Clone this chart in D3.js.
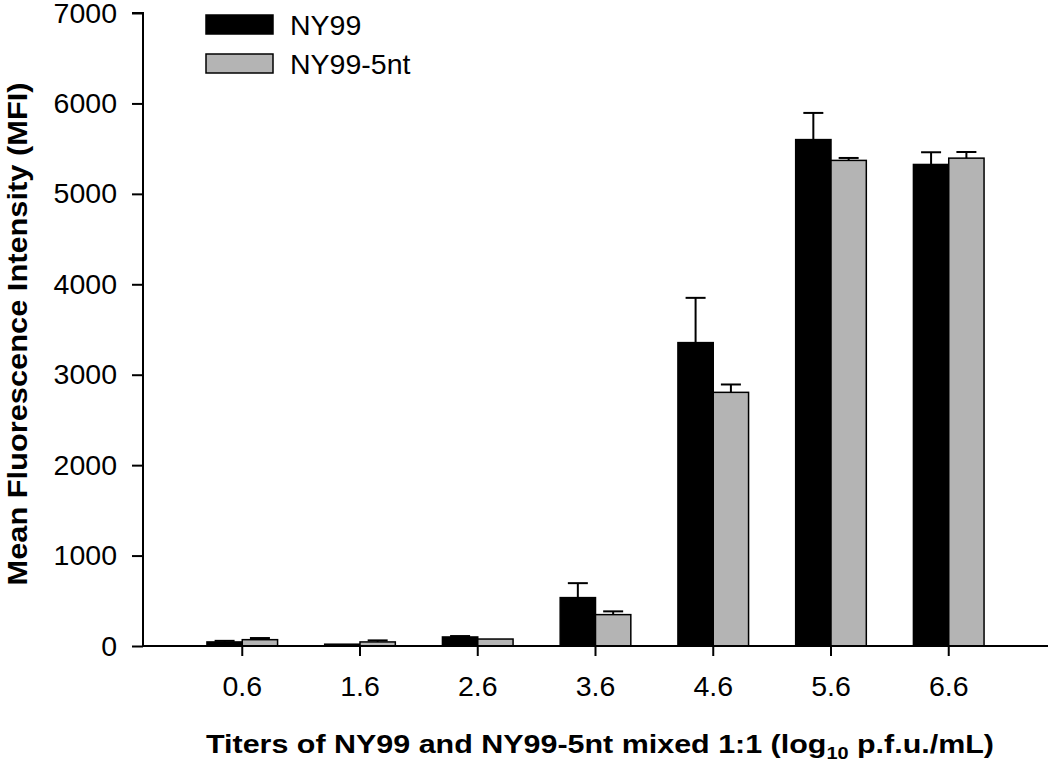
<!DOCTYPE html>
<html>
<head>
<meta charset="utf-8">
<script src="https://cdn.jsdelivr.net/npm/d3@7"></script>
<style>
  html, body { margin: 0; padding: 0; background: #fff; }
  text { font-family: "Liberation Sans", Arial, sans-serif; fill: #000; }
</style>
</head>
<body>
<svg id="chart" width="1050" height="765"></svg>
<script>
const categories = ["0.6", "1.6", "2.6", "3.6", "4.6", "5.6", "6.6"];
const seriesNames = ["NY99", "NY99-5nt"];
const ny99 = [45, 20, 100, 535, 3355, 5600, 5325];
const ny99Err = [12, 0, 10, 160, 495, 295, 135];
const ny995nt = [70, 45, 77, 347, 2805, 5370, 5395];
const ny995ntErr = [18, 17, 0, 36, 87, 27, 68];
const yTicks = [0, 1000, 2000, 3000, 4000, 5000, 6000, 7000];

const svg = d3.select("#chart");
const mLeft = 143, mRight = 1048, mTop = 13, mBottom = 646;

const x = d3.scaleBand().domain(categories).range([mLeft, mRight]).paddingInner(0).paddingOuter(0.343);
const inner = d3.scaleBand().domain(seriesNames).range([0, x.bandwidth()]).paddingOuter(0.667).paddingInner(0);
const y = d3.scaleLinear().domain([0, 7000]).range([mBottom, mTop]);

const colors = { "NY99": "#000000", "NY99-5nt": "#b4b4b4" };
const values = { "NY99": ny99, "NY99-5nt": ny995nt };
const errs = { "NY99": ny99Err, "NY99-5nt": ny995ntErr };

// bars
seriesNames.forEach(s => {
  const g = svg.append("g");
  g.selectAll("rect").data(categories).enter().append("rect")
    .attr("x", d => x(d) + inner(s))
    .attr("width", inner.bandwidth())
    .attr("y", (d, i) => y(values[s][i]))
    .attr("height", (d, i) => mBottom - y(values[s][i]))
    .attr("fill", colors[s])
    .attr("stroke", "#000")
    .attr("stroke-width", 1.5);
  categories.forEach((d, i) => {
    const e = errs[s][i];
    if (e <= 0) return;
    const cx = x(d) + inner(s) + inner.bandwidth() / 2;
    const y0 = y(values[s][i]), y1 = y(values[s][i] + e);
    g.append("line").attr("x1", cx).attr("x2", cx).attr("y1", y0).attr("y2", y1)
      .attr("stroke", "#000").attr("stroke-width", 2);
    g.append("line").attr("x1", cx - 10).attr("x2", cx + 10).attr("y1", y1).attr("y2", y1)
      .attr("stroke", "#000").attr("stroke-width", 2);
  });
});

// axes
const yAxis = d3.axisLeft(y).tickValues(yTicks).tickSize(11).tickPadding(15).tickFormat(d3.format("d"));
const gy = svg.append("g").attr("transform", `translate(${mLeft},0)`).call(yAxis);
gy.select(".domain").attr("stroke-width", 2).attr("d", `M-11,${mTop}H0V${mBottom}`);
gy.selectAll(".tick line").attr("stroke-width", 2);
gy.selectAll(".tick text").style("font-size", "28.5px").style("font-family", "Liberation Sans, Arial, sans-serif");

const xAxis = d3.axisBottom(x).tickSize(10).tickPadding(20);
const gx = svg.append("g").attr("transform", `translate(0,${mBottom})`).call(xAxis);
gx.select(".domain").attr("stroke-width", 2).attr("d", `M${mLeft},0H${mRight}`);
gx.selectAll(".tick line").attr("stroke-width", 2);
gx.selectAll(".tick text").style("font-size", "28.5px").style("font-family", "Liberation Sans, Arial, sans-serif");

// axis titles
svg.append("text")
  .attr("transform", `translate(27,334) rotate(-90)`)
  .attr("text-anchor", "middle")
  .style("font-size", "28px").style("font-weight", "bold")
  .attr("textLength", 503).attr("lengthAdjust", "spacingAndGlyphs")
  .text("Mean Fluorescence Intensity (MFI)");

const xt = svg.append("text")
  .attr("x", 600).attr("y", 753)
  .attr("text-anchor", "middle")
  .style("font-size", "26px").style("font-weight", "bold")
  .attr("textLength", 788).attr("lengthAdjust", "spacingAndGlyphs");
xt.append("tspan").text("Titers of NY99 and NY99-5nt mixed 1:1 (log");
xt.append("tspan").attr("dy", 6).style("font-size", "17px").text("10");
xt.append("tspan").attr("dy", -6).text(" p.f.u./mL)");

// legend
const leg = svg.append("g");
seriesNames.forEach((s, i) => {
  const ly = 15 + i * 39;
  leg.append("rect").attr("x", 206).attr("y", ly).attr("width", 67).attr("height", 19)
    .attr("fill", colors[s]).attr("stroke", "#000").attr("stroke-width", 1.5);
  leg.append("text").attr("x", 290).attr("y", ly + 20)
    .style("font-size", "28.5px").text(s);
});
</script>
</body>
</html>
